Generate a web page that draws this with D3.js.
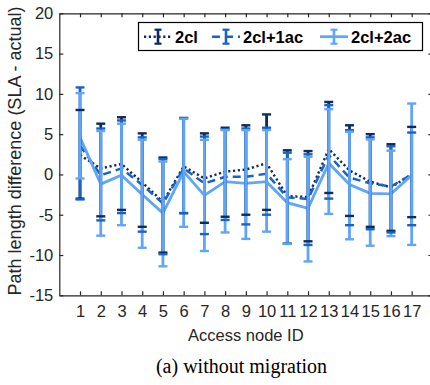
<!DOCTYPE html>
<html>
<head>
<meta charset="utf-8">
<script src="https://cdn.jsdelivr.net/npm/d3@7"></script>
<style>
  body { margin: 0; background: #fff; }
  svg { display: block; }
  text { font-family: "Liberation Sans", Arial, sans-serif; fill: #262626; }
</style>
</head>
<body>
<script>
// access node ids
var ids = [1,2,3,4,5,6,7,8,9,10,11,12,13,14,15,16,17];
var yTicks = [-15,-10,-5,0,5,10,15,20];

// 2cl
var mean2cl = [2.4, 0.75, 1.3, -1.0, -3.4, 1.0, -0.5, 0.35, 0.6, 1.4, -2.7, -2.8, 3.15, 0.5, -0.9, -1.6, 0.0];
var hi2cl   = [8.0, 6.3, 7.1, 5.1, 2.1, 7.0, 5.1, 5.8, 6.1, 7.45, 3.0, 2.9, 9.0, 6.1, 5.0, 3.75, 5.9];
var lo2cl   = [-3.0, -5.2, -4.4, -6.5, -9.7, -4.8, -6.0, -5.25, -5.0, -4.4, -8.6, -8.3, -2.3, -5.15, -6.5, -7.0, -5.3];
// 2cl+1ac
var mean1ac = [3.6, -0.1, 0.75, -1.3, -3.6, 0.75, -1.1, -0.3, -0.3, 0.1, -2.85, -3.05, 2.4, -0.4, -1.1, -1.5, 0.0];
var hi1ac   = [10.8, 5.7, 6.7, 4.6, 1.9, 7.0, 4.7, 5.6, 5.7, 5.8, 2.7, 2.5, 8.6, 5.5, 4.6, 3.5, 5.2];
var lo1ac   = [-3.1, -5.7, -4.8, -7.1, -9.9, -4.8, -7.4, -5.65, -6.2, -5.0, -8.6, -8.75, -3.0, -6.3, -6.8, -7.2, -6.3];
// 2cl+2ac
var mean2ac = [4.6, -1.2, -0.1, -2.5, -4.8, 0.35, -2.6, -0.9, -1.1, -0.9, -3.5, -4.2, 1.4, -1.25, -2.35, -2.4, -0.1];
var hi2ac   = [10.1, 5.4, 6.3, 4.3, 1.6, 6.9, 4.3, 5.5, 5.5, 5.5, 1.9, 2.2, 8.1, 5.3, 4.35, 2.95, 8.8];
var lo2ac   = [-0.5, -7.6, -6.3, -9.1, -11.4, -6.5, -9.5, -7.2, -8.0, -7.1, -8.6, -10.8, -4.9, -8.05, -8.85, -7.65, -8.75];

var series = [
  {name: "2cl",     mean: mean2cl, hi: hi2cl, lo: lo2cl, color: "#0c2c5e", dash: "2.2,2.6", lw: 2.4},
  {name: "2cl+1ac", mean: mean1ac, hi: hi1ac, lo: lo1ac, color: "#1a62c6", dash: "8,5",     lw: 2.5},
  {name: "2cl+2ac", mean: mean2ac, hi: hi2ac, lo: lo2ac, color: "#61a5f8", dash: null,      lw: 2.8}
];

var svg = d3.select("body").append("svg")
  .attr("width", 430)
  .attr("height", 385);

var x = d3.scaleLinear().domain([0, 18]).range([59.3, 432.4]);
var y = d3.scaleLinear().domain([-15, 20]).range([295.3, 13.3]);

// axes (ticks pointing inward, box on all four sides)
var axisColor = "#262626";
svg.append("g")
  .attr("transform", "translate(" + x(0) + ",0)")
  .call(d3.axisLeft(y).tickValues(yTicks).tickSizeInner(-4).tickSizeOuter(0).tickPadding(6)
    .tickFormat(function(d) { return String(d); }))
  .call(function(g) { g.selectAll("text").style("font-size", "16.5px"); });
svg.append("g")
  .attr("transform", "translate(0," + y(-15) + ")")
  .call(d3.axisBottom(x).tickValues(ids).tickSizeInner(-4).tickSizeOuter(0).tickPadding(10))
  .call(function(g) { g.selectAll("text").style("font-size", "16.5px"); });
svg.append("g")
  .attr("transform", "translate(0," + y(20) + ")")
  .call(d3.axisTop(x).tickValues(ids).tickSizeInner(-4).tickSizeOuter(0).tickFormat(""));
svg.append("g")
  .attr("transform", "translate(" + x(18) + ",0)")
  .call(d3.axisRight(y).tickValues(yTicks).tickSizeInner(-4).tickSizeOuter(0).tickFormat(""));
svg.selectAll(".domain").attr("stroke", axisColor).attr("stroke-width", 1.2);
svg.selectAll(".tick line").attr("stroke", axisColor).attr("stroke-width", 1.2);

var plot = svg.append("g");

// mean lines
var line = d3.line()
  .x(function(d, i) { return x(ids[i]); })
  .y(function(d) { return y(d); });

series.forEach(function(s) {
  plot.append("path")
    .datum(s.mean)
    .attr("fill", "none")
    .attr("stroke", s.color)
    .attr("stroke-width", s.lw)
    .attr("stroke-dasharray", s.dash)
    .attr("d", line);
});

// vertical error bars
series.forEach(function(s) {
  plot.selectAll(null)
    .data(ids)
    .enter().append("line")
    .attr("x1", function(d) { return x(d); })
    .attr("x2", function(d) { return x(d); })
    .attr("y1", function(d, i) { return y(s.hi[i]); })
    .attr("y2", function(d, i) { return y(s.lo[i]); })
    .attr("stroke", s.color)
    .attr("stroke-width", 2.8);
});

// caps
series.forEach(function(s) {
  [s.hi, s.lo].forEach(function(arr) {
    plot.selectAll(null)
      .data(ids)
      .enter().append("line")
      .attr("x1", function(d) { return x(d) - 4.5; })
      .attr("x2", function(d) { return x(d) + 4.5; })
      .attr("y1", function(d, i) { return y(arr[i]); })
      .attr("y2", function(d, i) { return y(arr[i]); })
      .attr("stroke", s.color)
      .attr("stroke-width", 2.4);
  });
});

// legend
var legend = svg.append("g");
legend.append("rect")
  .attr("x", 138.5).attr("y", 22.5)
  .attr("width", 284).attr("height", 28)
  .attr("fill", "#fff")
  .attr("stroke", "#000")
  .attr("stroke-width", 1.2);

var legX = [144, 212, 320];
var legY = 36.7;
series.forEach(function(s, i) {
  var g = legend.append("g").attr("transform", "translate(" + legX[i] + "," + legY + ")");
  g.append("line")
    .attr("x1", 0).attr("x2", 28)
    .attr("stroke", s.color)
    .attr("stroke-width", s.lw)
    .attr("stroke-dasharray", s.dash);
  g.append("line")
    .attr("x1", 14).attr("x2", 14).attr("y1", -7).attr("y2", 7)
    .attr("stroke", s.color).attr("stroke-width", 2.6);
  [-7, 7].forEach(function(c) {
    g.append("line")
      .attr("x1", 10.5).attr("x2", 17.5).attr("y1", c).attr("y2", c)
      .attr("stroke", s.color).attr("stroke-width", 2.2);
  });
  g.append("text")
    .attr("x", 31)
    .attr("dy", "0.36em")
    .style("font-size", "16.5px")
    .style("font-weight", "bold")
    .style("fill", "#000")
    .text(s.name);
});

// titles
svg.append("text")
  .attr("x", (x(0) + x(18)) / 2)
  .attr("y", 341)
  .attr("text-anchor", "middle")
  .style("font-size", "16.5px")
  .text("Access node ID");

svg.append("text")
  .attr("transform", "translate(21,151) rotate(-90)")
  .attr("text-anchor", "middle")
  .style("font-size", "18px")
  .text("Path length difference (SLA - actual)");

svg.append("text")
  .attr("x", 241.5)
  .attr("y", 373)
  .attr("text-anchor", "middle")
  .style("font-family", "'Liberation Serif', 'Times New Roman', serif")
  .style("font-size", "20px")
  .style("fill", "#000")
  .text("(a) without migration");
</script>
</body>
</html>
